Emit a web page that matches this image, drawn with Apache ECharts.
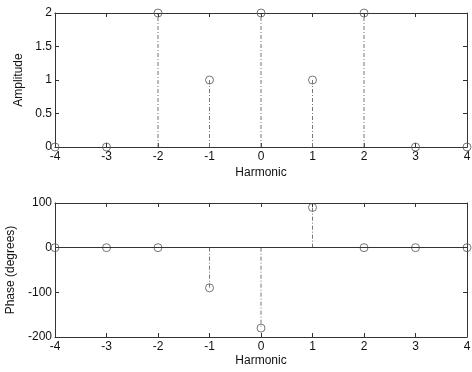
<!DOCTYPE html>
<html>
<head>
<meta charset="utf-8">
<script src="https://cdn.jsdelivr.net/npm/echarts@6/dist/echarts.min.js"></script>
<style>
  html, body { margin: 0; padding: 0; background: #fff; }
  #main { width: 472px; height: 372px; }
</style>
</head>
<body>
<div id="main"></div>
<script>
const harmonics = [-4, -3, -2, -1, 0, 1, 2, 3, 4];
const amplitude = [0, 0, 2, 1, 2, 1, 2, 0, 0];
const phase = [0, 0, 0, -90, -180, 90, 0, 0, 0];

const ink = '#333';
const font = 'Liberation Sans, Arial, sans-serif';

const pairs = vals => harmonics.map((h, i) => [h, vals[i]]);

function stem(grid, vals) {
  return {
    type: 'custom',
    xAxisIndex: grid * 2,
    yAxisIndex: grid * 2,
    data: pairs(vals),
    renderItem(params, api) {
      const x = api.value(0), y = api.value(1);
      const p0 = api.coord([x, 0]);
      const p1 = api.coord([x, y]);
      return {
        type: 'line',
        shape: { x1: p0[0], y1: p0[1], x2: p1[0], y2: p1[1] },
        style: { stroke: '#777', lineWidth: 1, lineDash: [4, 2, 1, 2] }
      };
    },
    z: 2
  };
}

function heads(grid, vals) {
  return {
    type: 'scatter',
    xAxisIndex: grid * 2,
    yAxisIndex: grid * 2,
    data: pairs(vals),
    symbol: 'circle',
    symbolSize: 8,
    itemStyle: { color: 'rgba(255,255,255,0)', borderColor: '#555', borderWidth: 1 },
    silent: true,
    z: 3
  };
}

const xBase = {
  type: 'value', min: -4, max: 4, interval: 1,
  axisLine: { show: true, onZero: false, lineStyle: { color: ink, width: 1 } },
  axisTick: { show: true, inside: true, length: 4, lineStyle: { color: ink } },
  splitLine: { show: false },
  axisLabel: { color: '#111', fontSize: 12, fontFamily: font, margin: 4 },
  nameTextStyle: { color: '#111', fontSize: 12, fontFamily: font }
};

function xAxes(grid, gap) {
  return [
    { ...xBase, gridIndex: grid, position: 'bottom', name: 'Harmonic', nameLocation: 'middle', nameGap: gap },
    { ...xBase, gridIndex: grid, position: 'top', axisLabel: { show: false } }
  ];
}

function yAxes(grid, min, max, interval, name, gap) {
  const base = {
    ...xBase, gridIndex: grid, min: min, max: max, interval: interval,
    axisLabel: { ...xBase.axisLabel, margin: 3 }
  };
  return [
    { ...base, position: 'left', name: name, nameLocation: 'middle', nameGap: gap },
    { ...base, position: 'right', axisLabel: { show: false } }
  ];
}

const chart = echarts.init(document.getElementById('main'));
chart.setOption({
  animation: false,
  backgroundColor: '#fff',
  grid: [
    { left: 55, right: 5, top: 13, height: 134, containLabel: false, outerBoundsMode: 'none' },
    { left: 55, right: 5, top: 203, height: 134, containLabel: false, outerBoundsMode: 'none' }
  ],
  xAxis: [...xAxes(0, 20), ...xAxes(1, 18)],
  yAxis: [
    ...yAxes(0, 0, 2, 0.5, 'Amplitude', 29),
    ...yAxes(1, -200, 100, 100, 'Phase (degrees)', 35)
  ],
  series: [
    stem(0, amplitude),
    heads(0, amplitude),
    {
      ...stem(1, phase),
      markLine: {
        silent: true, symbol: 'none', label: { show: false },
        lineStyle: { color: ink, type: 'solid', width: 1 },
        data: [{ yAxis: 0 }]
      }
    },
    heads(1, phase)
  ]
});
</script>
</body>
</html>
